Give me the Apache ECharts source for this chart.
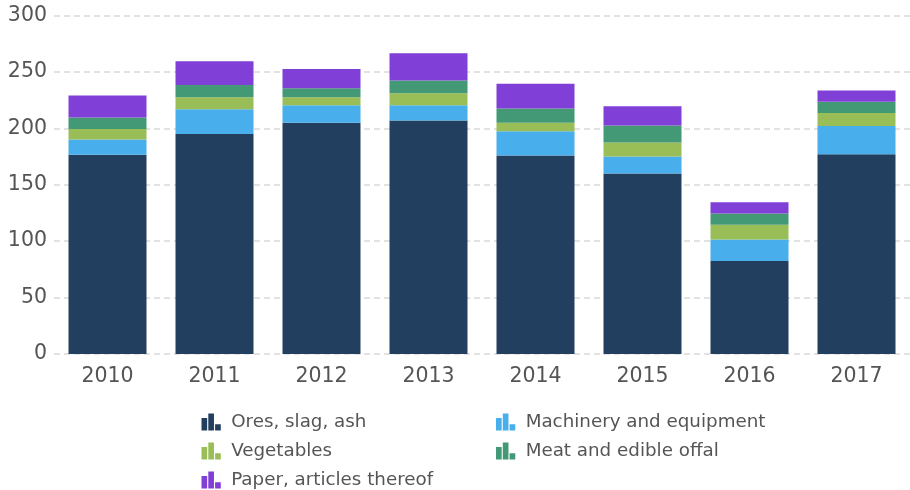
<!DOCTYPE html>
<html>
<head>
<meta charset="utf-8">
<script src="https://cdn.jsdelivr.net/npm/echarts@6/dist/echarts.min.js"></script>
<style>
  html, body { margin: 0; padding: 0; background: #fff; }
  #main { width: 910px; height: 490px; }
</style>
</head>
<body>
<div id="main"></div>
<script>
  // categories and values
  var years = ['2010', '2011', '2012', '2013', '2014', '2015', '2016', '2017'];
  var ores = [176.5, 195, 205, 207, 176, 160, 82.5, 177];
  var machinery = [13.5, 22, 15.5, 13.5, 21.5, 15, 19, 25];
  var vegetables = [9.5, 10.5, 7, 10.5, 7.5, 12.5, 13, 11.5];
  var meat = [10, 11, 8, 11.5, 12.5, 15, 10, 10];
  var paper = [19.5, 21, 17, 24, 22, 17, 10, 10];

  var names = ['Ores, slag, ash', 'Machinery and equipment', 'Vegetables', 'Meat and edible offal', 'Paper, articles thereof'];
  var colors = ['#233f5f', '#48aeec', '#9abe57', '#439875', '#803fd7'];
  var values = [ores, machinery, vegetables, meat, paper];

  var icon = 'path://M0,4H5V15H0Z M6,0H11V15H6Z M12,9.5H17V15H12Z';
  var font = 'DejaVu Sans';

  // one legend per item so the two columns line up like the original
  var legendPos = [[201.5, 413], [496, 413], [201.5, 442], [496, 442], [201.5, 471]];
  var legends = names.map(function (n, i) {
    return {
      left: legendPos[i][0],
      top: legendPos[i][1],
      padding: 0,
      icon: icon,
      itemWidth: 22,
      itemHeight: 17,
      selectedMode: false,
      textStyle: { color: '#555', fontSize: 18.3, fontFamily: font, padding: [0, 0, 0, 4] },
      data: [n]
    };
  });

  var option = {
    color: colors,
    animation: false,
    textStyle: { fontFamily: font },
    grid: { left: 54, top: 15.5, width: 864, height: 338.5 },
    legend: legends,
    xAxis: {
      type: 'category',
      data: years,
      axisLine: { show: false },
      axisTick: { show: false },
      axisLabel: { color: '#555', fontSize: 20.5, fontFamily: font, margin: 12 }
    },
    yAxis: {
      type: 'value',
      min: 0,
      max: 300,
      interval: 50,
      axisLine: { show: false },
      axisTick: { show: false },
      axisLabel: { color: '#555', fontSize: 20.5, fontFamily: font, margin: 7 },
      splitLine: { lineStyle: { color: '#d9d9d9', type: [6, 4], width: 1.5 } }
    },
    series: values.map(function (arr, i) {
      return {
        name: names[i],
        type: 'bar',
        stack: 'total',
        barWidth: 78,
        data: arr,
        itemStyle: { color: colors[i] }
      };
    })
  };

  echarts.init(document.getElementById('main')).setOption(option);
</script>
</body>
</html>
